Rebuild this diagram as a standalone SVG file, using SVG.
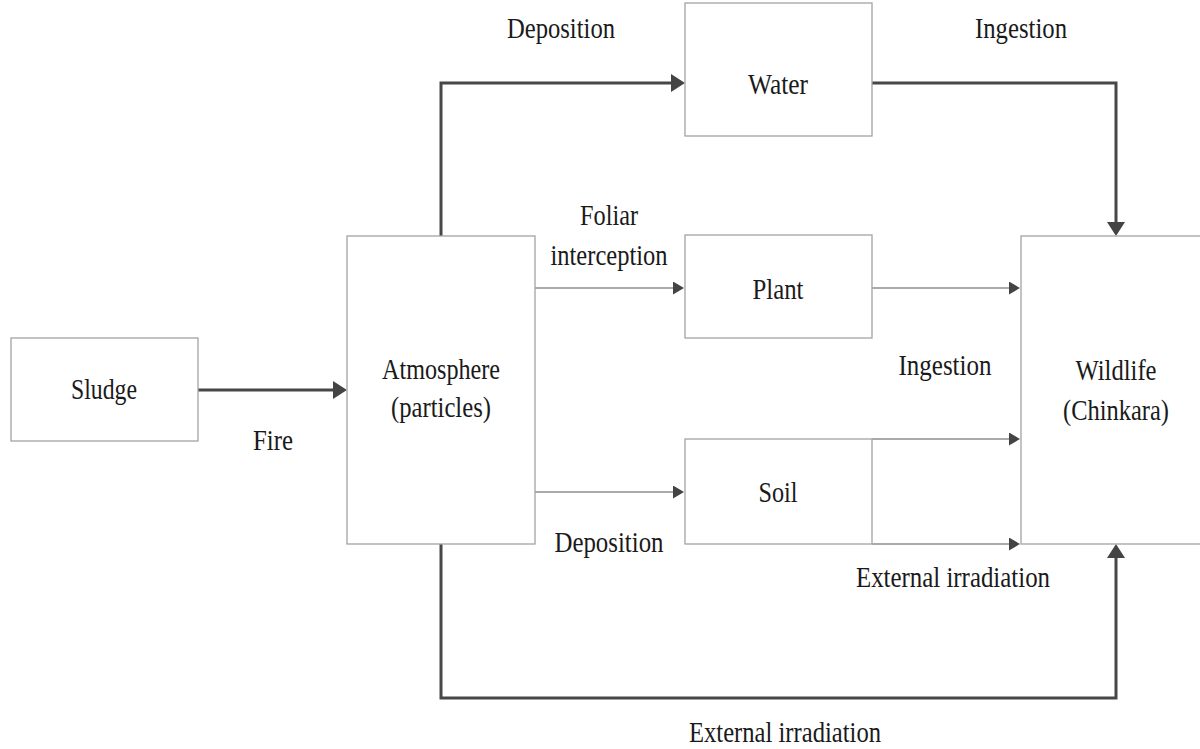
<svg xmlns="http://www.w3.org/2000/svg" width="1200" height="749" viewBox="0 0 1200 749">
<style>
.box{fill:#fff;stroke:#a3a3a3;stroke-width:1.3}
.t{font-family:"Liberation Serif","Times New Roman",serif;font-size:30px;fill:#1a1a1a;text-anchor:middle}
.thick{fill:none;stroke:#474747;stroke-width:3}
.thin{fill:none;stroke:#8e8e8e;stroke-width:1.6}
</style>
<defs>
<marker id="ah" markerUnits="userSpaceOnUse" markerWidth="16" markerHeight="20" refX="2" refY="9" orient="auto">
<path d="M0,0 L14,9 L0,18 z" fill="#444"/>
</marker>
<marker id="as" markerUnits="userSpaceOnUse" markerWidth="14" markerHeight="16" refX="2" refY="6.5" orient="auto">
<path d="M0,0 L11,6.5 L0,13 z" fill="#444"/>
</marker>
</defs>
<rect width="1200" height="749" fill="#fff"/>
<g id="connectors">
<path class="thick" d="M198,390 H335" marker-end="url(#ah)"/>
<path class="thick" d="M441,236 V83 H673" marker-end="url(#ah)"/>
<path class="thick" d="M872,83 H1116 V224" marker-end="url(#ah)"/>
<path class="thick" d="M441,544 V698 H1116 V556" marker-end="url(#ah)"/>
<path class="thin" d="M535,288 H675" marker-end="url(#as)"/>
<path class="thin" d="M872,288 H1011" marker-end="url(#as)"/>
<path class="thin" d="M535,492 H675" marker-end="url(#as)"/>
<path class="thin" d="M872,439 H1011" marker-end="url(#as)"/>
<path class="thin" d="M872,544 H1011" marker-end="url(#as)"/>
</g>
<g id="sludge">
<rect class="box" x="11" y="338" width="187" height="103"/>
<text class="t" x="104" y="399" textLength="66" lengthAdjust="spacingAndGlyphs">Sludge</text>
</g>
<g id="atmosphere">
<rect class="box" x="347" y="236" width="188" height="308"/>
<text class="t" x="441" y="379" textLength="118" lengthAdjust="spacingAndGlyphs">Atmosphere</text>
<text class="t" x="441" y="417" textLength="100" lengthAdjust="spacingAndGlyphs">(particles)</text>
</g>
<g id="water">
<rect class="box" x="685" y="3" width="187" height="133"/>
<text class="t" x="778" y="94" textLength="60" lengthAdjust="spacingAndGlyphs">Water</text>
</g>
<g id="plant">
<rect class="box" x="685" y="235" width="187" height="103"/>
<text class="t" x="778" y="299" textLength="51" lengthAdjust="spacingAndGlyphs">Plant</text>
</g>
<g id="soil">
<rect class="box" x="685" y="439" width="187" height="105"/>
<text class="t" x="778" y="502" textLength="39" lengthAdjust="spacingAndGlyphs">Soil</text>
</g>
<g id="wildlife">
<rect class="box" x="1021" y="236" width="200" height="308"/>
<text class="t" x="1116" y="380" textLength="81" lengthAdjust="spacingAndGlyphs">Wildlife</text>
<text class="t" x="1116" y="420" textLength="106" lengthAdjust="spacingAndGlyphs">(Chinkara)</text>
</g>
<g id="labels">
<text class="t" x="561" y="38" textLength="108" lengthAdjust="spacingAndGlyphs">Deposition</text>
<text class="t" x="1021" y="38" textLength="92" lengthAdjust="spacingAndGlyphs">Ingestion</text>
<text class="t" x="273" y="450" textLength="40" lengthAdjust="spacingAndGlyphs">Fire</text>
<text class="t" x="609" y="225" textLength="58" lengthAdjust="spacingAndGlyphs">Foliar</text>
<text class="t" x="609" y="265" textLength="117" lengthAdjust="spacingAndGlyphs">interception</text>
<text class="t" x="945" y="375" textLength="93" lengthAdjust="spacingAndGlyphs">Ingestion</text>
<text class="t" x="609" y="552" textLength="109" lengthAdjust="spacingAndGlyphs">Deposition</text>
<text class="t" x="953" y="587" textLength="194" lengthAdjust="spacingAndGlyphs">External irradiation</text>
<text class="t" x="785" y="742" textLength="192" lengthAdjust="spacingAndGlyphs">External irradiation</text>
</g>
</svg>
